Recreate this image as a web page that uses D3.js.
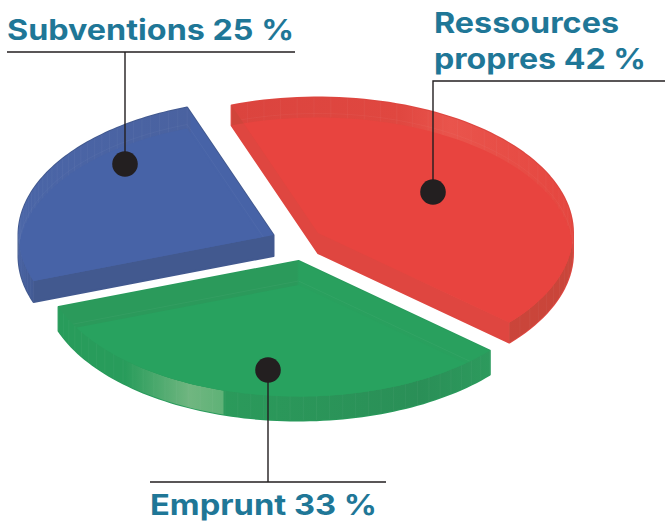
<!DOCTYPE html>
<html>
<head>
<meta charset="utf-8">
<script src="https://cdn.jsdelivr.net/npm/d3@7"></script>
<style>
  html, body { margin: 0; padding: 0; background: #fff; }
  svg { display: block; }
</style>
</head>
<body>
<div id="chart"></div>
<script>
// values
const categories = ["Ressources propres", "Emprunt", "Subventions"];
const shares = [42, 33, 25];

// layout of each slice, same order as categories
const apexX = [318, 298.5, 273.5];
const apexY = [233, 261, 235];
const depth = [20, 24, 21];
const dotX = [433, 268, 125];
const dotY = [192, 370, 164];

const colors = [
    { floor: "#e8443f", cut: "#df4640", outer: [[250, "#d0453b"], [573, "#c9453a"]],
      rim: [[232, "#db443e"], [400, "#e04740"], [450, "#e9544c"], [573, "#e5463f"]] },
    { floor: "#28a25f", cut: "#289a5b", outer: [[59, "#289c5b"], [125, "#289c5b"], [190, "#70b680"], [223, "#5fb277"], [224, "#2b9a5b"], [420, "#2a8f57"], [490, "#2d9a5d"]],
      rim: [[59, "#2b9a5b"], [297, "#2b9a5b"], [299, "#29a05e"], [490, "#29a05e"]] },
    { floor: "#4763a7", cut: "#42598f", outer: [[18, "#4660a2"], [40, "#42598f"]],
      rim: [[18, "#4a65a7"], [190, "#4a62a0"], [191, "#4763a7"]] }
];

const width = 665, height = 521;
const rx = 255, ry = 135.5;

const svg = d3.select("#chart").append("svg")
    .attr("width", width)
    .attr("height", height);
const defs = svg.append("defs");

const pie = d3.pie().sort(null)
    .startAngle(-19.8 * Math.PI / 180)
    .endAngle(340.2 * Math.PI / 180);
const slices = pie(shares);

const line = d3.line();

function gradient(id, stops) {
    const x = d3.scaleLinear().domain([0, width]).range([0, 1]);
    const g = defs.append("linearGradient")
        .attr("id", id)
        .attr("gradientUnits", "userSpaceOnUse")
        .attr("x1", 0).attr("x2", width)
        .attr("y1", 0).attr("y2", 0);
    stops.forEach(s => {
        g.append("stop").attr("offset", x(s[0])).attr("stop-color", s[1]);
    });
}

slices.forEach((s, i) => {
    const ax = apexX[i], ay = apexY[i], d = depth[i];
    const c = colors[i];
    const n = 80;

    // points of the ellipse arc for this slice
    const arc = d3.range(n + 1).map(k => {
        const a = s.startAngle + (s.endAngle - s.startAngle) * k / n;
        return [ax + rx * Math.sin(a), ay - ry * Math.cos(a)];
    });
    const top = [[ax, ay]].concat(arc);
    const down = top.map(p => [p[0], p[1] + d]);
    const band = arc.concat(arc.map(p => [p[0], p[1] + d]).reverse());

    gradient("outer" + i, c.outer);
    gradient("rim" + i, c.rim);
    defs.append("clipPath").attr("id", "clip" + i)
        .append("path").attr("d", line(top) + "Z");

    const g = svg.append("g");

    // side walls
    g.append("path")
        .attr("d", line(d3.polygonHull(top.concat(down))) + "Z")
        .attr("fill", c.cut)
        .attr("stroke", c.cut)
        .attr("stroke-width", 2)
        .attr("stroke-linejoin", "round");
    g.append("path")
        .attr("d", line(band) + "Z")
        .attr("fill", `url(#outer${i})`);

    // the rim, then the floor that shows inside it
    g.append("path")
        .attr("d", line(top) + "Z")
        .attr("fill", `url(#rim${i})`);
    g.append("path")
        .attr("d", line(down) + "Z")
        .attr("clip-path", `url(#clip${i})`)
        .attr("fill", c.floor);

    // facets on the round wall
    g.append("g").selectAll("line")
        .data(arc.filter((p, k) => k % 2 === 0))
        .enter()
        .append("line")
        .attr("x1", p => p[0]).attr("y1", p => p[1])
        .attr("x2", p => p[0]).attr("y2", p => p[1] + d)
        .attr("stroke", "#fff")
        .attr("stroke-opacity", 0.06)
        .attr("stroke-width", 0.7);

    // thin line where wall meets floor
    g.append("path")
        .attr("d", line(down.map(p => [p[0], p[1] - 4])) + "Z")
        .attr("clip-path", `url(#clip${i})`)
        .attr("fill", "none")
        .attr("stroke", "#fff")
        .attr("stroke-opacity", 0.05)
        .attr("stroke-width", 0.8);
});

// leader lines and dots
const leaders = [
    [[665, 81], [433, 81], [433, 192]],
    [[150, 482], [386, 482], [268, 482], [268, 370]],
    [[7, 52], [295, 52], [125, 52], [125, 164]]
];
leaders.forEach(l => {
    svg.append("path")
        .attr("d", line(l))
        .attr("fill", "none")
        .attr("stroke", "#231f20")
        .attr("stroke-width", 1.4);
});
svg.selectAll("circle")
    .data(shares)
    .enter()
    .append("circle")
    .attr("cx", (v, i) => dotX[i])
    .attr("cy", (v, i) => dotY[i])
    .attr("r", 12.8)
    .attr("fill", "#231f20");

// labels
const labelLines = [
    { text: "Ressources", x: 434, y: 33, w: 185 },
    { text: `propres ${shares[0]} %`, x: 434, y: 69, w: 212 },
    { text: `${categories[1]} ${shares[1]} %`, x: 150, y: 515, w: 227 },
    { text: `${categories[2]} ${shares[2]} %`, x: 7, y: 40, w: 287 }
];
svg.selectAll("text")
    .data(labelLines)
    .enter()
    .append("text")
    .attr("x", t => t.x)
    .attr("y", t => t.y)
    .attr("textLength", t => t.w)
    .attr("lengthAdjust", "spacingAndGlyphs")
    .style("font-family", "Inter, 'Liberation Sans', sans-serif")
    .style("font-weight", "700")
    .style("font-size", "28px")
    .attr("fill", "#1f7797")
    .text(t => t.text);
</script>
</body>
</html>
